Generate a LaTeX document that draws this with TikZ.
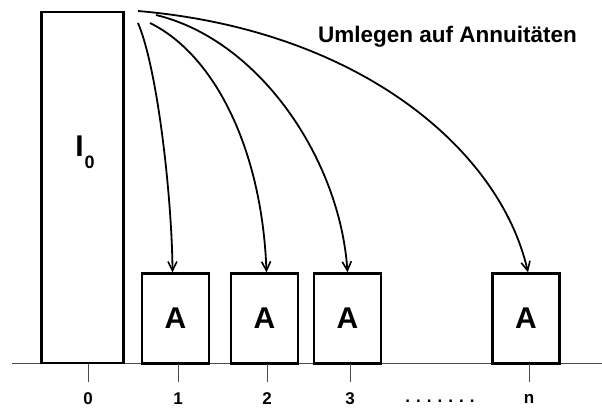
\documentclass[tikz,border=0pt]{standalone}
\usepackage{fontspec}
\setmainfont{Liberation Sans}
\usetikzlibrary{arrows.meta}
\begin{document}
\begin{tikzpicture}[x=1pt,y=-1pt,
  bigbox/.style={draw,line width=2.4pt,minimum width=82pt,minimum height=351pt,inner sep=0pt},
  abox/.style={draw,line width=2.4pt,minimum width=67pt,minimum height=90pt,inner sep=0pt,font=\fontsize{30}{32}\selectfont\bfseries},
  conn/.style={line width=1.8pt,-{Straight Barb[length=9pt,width=9pt,line width=1.6pt]}},
  tick/.style={line width=0.9pt,black!70},
  lab/.style={font=\fontsize{17}{18}\selectfont\bfseries,inner sep=0pt}]
\useasboundingbox (0,0) rectangle (602,410);
\coordinate (axl) at (12,363);
\coordinate (axr) at (602,363);
\draw[line width=0.9pt,black!70] (axl) -- (axr);
\node[bigbox] (I) at (82.5,187.5) {};
\node[font=\fontsize{30}{32}\selectfont\bfseries] (Ilab) at (85,152) {I\hspace{1pt}\raisebox{-0.4em}{\fontsize{18}{18}\selectfont 0}};
\node[abox] (a1) at (175.5,318.5) {A};
\node[abox] (a2) at (264.5,318.5) {A};
\node[abox] (a3) at (347.5,318.5) {A};
\node[abox] (an) at (526,318.5) {A};
\foreach \n/\x/\t in {t0/88/0,t1/178/1,t2/267/2,t3/350/3,tn/529/n}{
  \coordinate (\n a) at (\x,364);
  \coordinate (\n b) at (\x,382);
  \draw[tick] (\n a) -- (\n b);
  \node[lab] (\n l) at (\x,399) {\t};
}
\node[lab] (dots) at (440,401) {.\hspace{6pt}.\hspace{6pt}.\hspace{6pt}.\hspace{6pt}.\hspace{6pt}.\hspace{6pt}.};
\node[anchor=west,inner sep=0pt,font=\fontsize{22.5}{24}\selectfont\bfseries] (title) at (318,37) {Umlegen auf Annuitäten};
\coordinate (s1) at (138,23);
\coordinate (s2) at (150,23);
\coordinate (s3) at (156,15);
\coordinate (sn) at (138,11);
\draw[conn] (s1) .. controls (158,70) and (172,200) .. ([xshift=-3pt]a1.north);
\draw[conn] (s2) .. controls (215,55) and (262,150) .. ([xshift=2pt]a2.north);
\draw[conn] (s3) .. controls (260,40) and (340,160) .. (a3.north);
\draw[conn] (sn) .. controls (360,30) and (500,150) .. ([xshift=2pt]an.north);
\end{tikzpicture}
\end{document}
